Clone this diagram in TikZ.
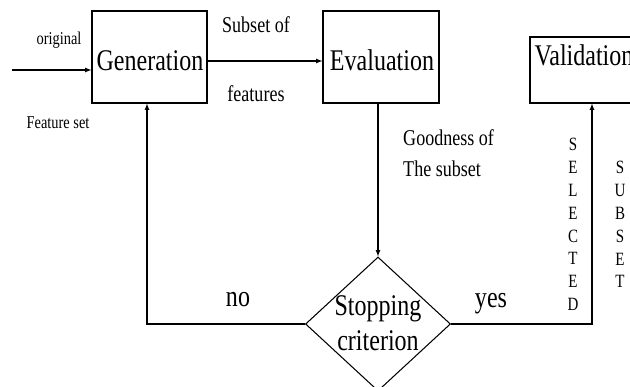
\documentclass[tikz,border=0pt]{standalone}
\usepackage{fontspec}
\setmainfont{Liberation Serif}
\usetikzlibrary{positioning,shapes.geometric}
\tikzstyle{pixelGrid} = [x = 0.03cm, y = -0.03cm]
\tikzstyle{flowLine} = [line width = 0.9pt]
\tikzstyle{flowArrow} = [flowLine, -latex]
\tikzstyle{blockStyle} = [draw, flowLine, minimum height = 2.76cm, inner sep = 0]
\tikzstyle{bigText} = [font = \fontsize{20.5}{24}\selectfont, inner sep = 0]
\tikzstyle{midText} = [font = \fontsize{15.4}{21}\selectfont, inner sep = 0]
\tikzstyle{smallText} = [font = \fontsize{12.3}{14}\selectfont, inner sep = 0]
\tikzstyle{letterText} = [font = \fontsize{12.8}{14}\selectfont, inner sep = 0]
\newcommand{\tallText}[1]{\scalebox{1}[1.25]{#1}}

\begin{document}
\begin{tikzpicture}[pixelGrid]
  \useasboundingbox (0,0) rectangle (630,387);
  \clip (0,0) rectangle (630,387);

  \node [blockStyle, minimum width = 3.45cm] (gen) at (149.5,57) {};
  \node [bigText] (genText) at (150,61) {\tallText{Generation}};
  \node [blockStyle, minimum width = 3.48cm] (eval) at (381,57) {};
  \node [bigText] (evalText) at (382,60) {\tallText{Evaluation}};
  \node [blockStyle, minimum width = 3.3cm, minimum height = 1.98cm] (valid) at (585,70) {};
  \node [bigText] (validText) at (584,55) {\tallText{Validation}};
  \node [draw, diamond, flowLine, minimum width = 4.35cm, minimum height = 4.02cm, inner sep = 0] (stop) at (378,324) {};
  \node [bigText] (stopText) at (378,326) {\tallText{\begin{tabular}{@{}c@{}}Stopping\\criterion\end{tabular}}};

  \node [smallText] (origText) at (59,40) {\tallText{original}};
  \node [smallText] (featSetText) at (58,123) {\tallText{Feature set}};
  \node [midText] (subsetText) at (256,25) {\tallText{Subset of}};
  \node [midText] (featText) at (256,94) {\tallText{features}};
  \node [midText, anchor = west] (goodText) at (403,155) {\tallText{\begin{tabular}{@{}l@{}}Goodness of\\The subset\end{tabular}}};
  \node [bigText] (noText) at (238,300) {\tallText{no}};
  \node [bigText] (yesText) at (491,304) {\tallText{yes}};

  \foreach \letter [count = \i] in {S,E,L,E,C,T,E,D}
    \node [letterText] (selected\i) at (573, 122 + 22.8 * \i) {\tallText{\letter}};
  \foreach \letter [count = \i] in {S,U,B,S,E,T}
    \node [letterText] (subset\i) at (620, 145 + 22.8 * \i) {\tallText{\letter}};

  \coordinate (inStart) at (12,70);
  \draw [flowArrow] (inStart) -- (inStart -| gen.west);
  \draw [flowArrow] ([yshift = -0.12cm] gen.east) -- ([yshift = -0.12cm] eval.west);
  \draw [flowArrow] (stop.north |- eval.south) -- (stop.north);
  \coordinate (noCorner) at (147,324);
  \draw [flowArrow] (stop.west) -- (noCorner) -- (noCorner |- gen.south);
  \coordinate (yesCorner) at (592,324);
  \draw [flowArrow] (stop.east) -- (yesCorner) -- (yesCorner |- valid.south);
\end{tikzpicture}
\end{document}
